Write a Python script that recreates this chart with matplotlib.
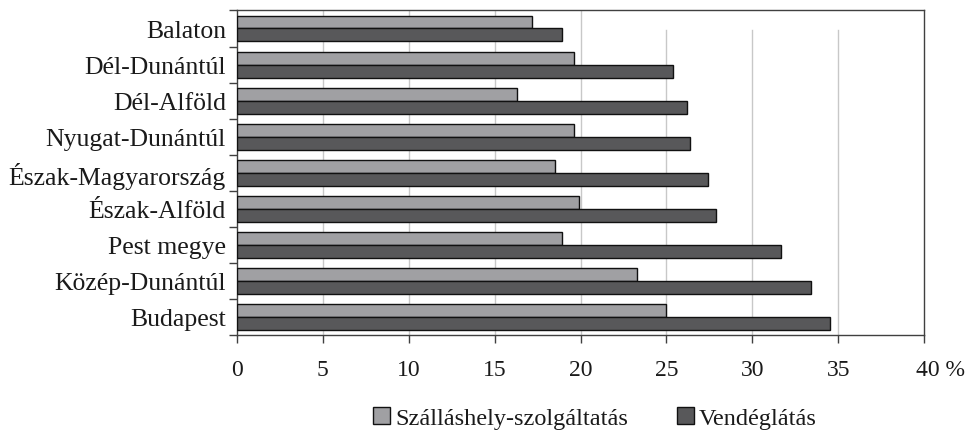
import numpy as np
import matplotlib.pyplot as plt
from matplotlib.patches import Patch

# Data (bottom to top, as drawn)
regions = ['Budapest', 'Közép-Dunántúl', 'Pest megye', 'Észak-Alföld',
           'Észak-Magyarország', 'Nyugat-Dunántúl', 'Dél-Alföld',
           'Dél-Dunántúl', 'Balaton']
szallas = [25.0, 23.3, 18.9, 19.9, 18.5, 19.6, 16.3, 19.6, 17.2]
vendeg = [34.5, 33.4, 31.7, 27.9, 27.4, 26.4, 26.2, 25.4, 18.9]
xticks = [0, 5, 10, 15, 20, 25, 30, 35, 40]
xticklabels = ['0', '5', '10', '15', '20', '25', '30', '35', '']
last_label = '40 %'

light = '#a0a0a3'
dark = '#58585a'
spine_col = '#404040'
txt_col = '#1a1a1a'

plt.rcParams['font.family'] = ['Liberation Serif', 'DejaVu Serif']

fig = plt.figure(figsize=(9.69, 4.31), dpi=100)
ax = fig.add_axes([0.2446, 0.2204, 0.709, 0.753])

y = np.arange(len(regions))
h = 0.36
ax.barh(y + h / 2, szallas, height=h, color=light, edgecolor='#111111', linewidth=1, zorder=3)
ax.barh(y - h / 2, vendeg, height=h, color=dark, edgecolor='#111111', linewidth=1, zorder=3)

# vertical gridlines (the upper part of the right three is missing in the original)
for xv in xticks[1:-1]:
    ax.axvline(xv, color='#c8c8c8', linewidth=1, zorder=1,
               ymax=1.0 if xv <= 20 else 0.94)

ax.set_xlim(0, 40)
ax.set_ylim(-0.5, len(regions) - 0.5)

ax.set_xticks(xticks)
ax.set_xticklabels(xticklabels)
# last tick label with the unit, left-shifted so it fits
ax.annotate(last_label, xy=(39.53, 0), xycoords=('data', 'axes fraction'),
            xytext=(0, -17), textcoords='offset points', ha='left', va='top',
            fontsize=17, color=txt_col, annotation_clip=False)

ax.set_yticks(y)
ax.set_yticklabels(regions)
ax.set_yticks(np.arange(-0.5, len(regions), 1), minor=True)
ax.tick_params(axis='y', which='major', length=0, pad=8, labelsize=18.5, labelcolor=txt_col)
ax.tick_params(axis='y', which='minor', length=6, width=1, color=spine_col)
ax.tick_params(axis='x', length=6, width=1, color=spine_col, pad=11,
               labelsize=17, labelcolor=txt_col)

for s in ax.spines.values():
    s.set_color(spine_col)
    s.set_linewidth(1)

handles = [Patch(facecolor=light, edgecolor='#111111', label='Szálláshely-szolgáltatás'),
           Patch(facecolor=dark, edgecolor='#111111', label='Vendéglátás')]
fig.legend(handles=handles, loc='center', bbox_to_anchor=(0.614, 0.028), ncol=2,
           frameon=False, fontsize=17.5, handlelength=0.7, handleheight=0.7,
           handletextpad=0.2, columnspacing=2.0, labelcolor=txt_col,
           borderpad=0, borderaxespad=0)

fig.savefig('out.png', dpi=100)
